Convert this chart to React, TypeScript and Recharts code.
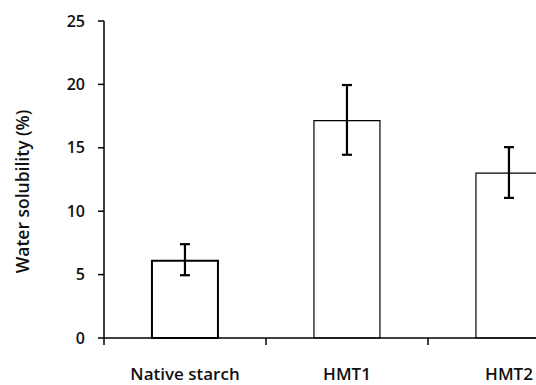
import React from 'react';
import { BarChart, Bar, XAxis, YAxis, ErrorBar, Cell, Label } from 'recharts';

const samples = ['Native starch', 'HMT1', 'HMT2'];
const solubility = [6.1, 17.15, 13.0];
// [minus, plus]
const solubilityErr: [number, number][] = [
  [1.15, 1.3],
  [2.7, 2.8],
  [1.95, 2.05],
];
const yTicks = [0, 5, 10, 15, 20, 25];

const data = samples.map((name, i) => ({
  name,
  value: solubility[i],
  err: solubilityErr[i],
}));

const FONT = '"Open Sans", "Noto Sans", sans-serif';
const INK = '#111';

const XTick = (props: any) => {
  const { x, y, payload } = props;
  const off = payload && payload.offset ? payload.offset : 0;
  return (
    <g>
      <line x1={x - off} y1={y} x2={x - off} y2={y + 7} stroke="#000" strokeWidth={1.5} />
      <text
        x={x}
        y={y + 42}
        textAnchor="middle"
        fontFamily={FONT}
        fontSize={17}
        fontWeight={600}
        fill={INK}
      >
        {payload.value}
      </text>
    </g>
  );
};

const YTitle = (props: any) => {
  const vb = props.viewBox || { x: 0, y: 0, height: 0 };
  const cx = vb.x + 22;
  const cy = vb.y + vb.height / 2 + 12;
  return (
    <text
      x={cx}
      y={cy}
      transform={`rotate(-90, ${cx}, ${cy})`}
      textAnchor="middle"
      dominantBaseline="central"
      fontFamily={FONT}
      fontSize={17.5}
      fontWeight={600}
      fill={INK}
    >
      Water solubility (%)
    </text>
  );
};

export default function App() {
  return (
    <div
      style={{
        position: 'absolute',
        left: 0,
        top: 0,
        width: 536,
        height: 385,
        overflow: 'hidden',
        background: '#fff',
      }}
    >
      <BarChart
        width={600}
        height={385}
        data={data}
        margin={{ top: 21, right: 10, left: 0, bottom: 0 }}
        barCategoryGap="29.6%"
      >
        <XAxis
          dataKey="name"
          height={47}
          axisLine={{ stroke: '#000', strokeWidth: 1.5 }}
          tickLine={false}
          tickSize={0}
          tickMargin={0}
          tick={<XTick />}
          interval={0}
        />
        <YAxis
          width={104}
          domain={[0, 25]}
          ticks={yTicks}
          axisLine={{ stroke: '#000', strokeWidth: 1.5 }}
          tickLine={{ stroke: '#000', strokeWidth: 1.5 }}
          tickSize={6}
          tickMargin={13}
          tick={{ fontFamily: FONT, fontSize: 16, fontWeight: 600, fill: INK }}
        >
          <Label content={<YTitle />} />
        </YAxis>
        <Bar dataKey="value" fill="#fff" stroke="#000" isAnimationActive={false}>
          {data.map((d, i) => (
            <Cell key={d.name} fill="#fff" stroke="#000" strokeWidth={i === 0 ? 2 : 1.2} />
          ))}
          <ErrorBar
            dataKey="err"
            direction="y"
            width={5}
            stroke="#000"
            strokeWidth={2.2}
            isAnimationActive={false}
          />
        </Bar>
      </BarChart>
    </div>
  );
}
